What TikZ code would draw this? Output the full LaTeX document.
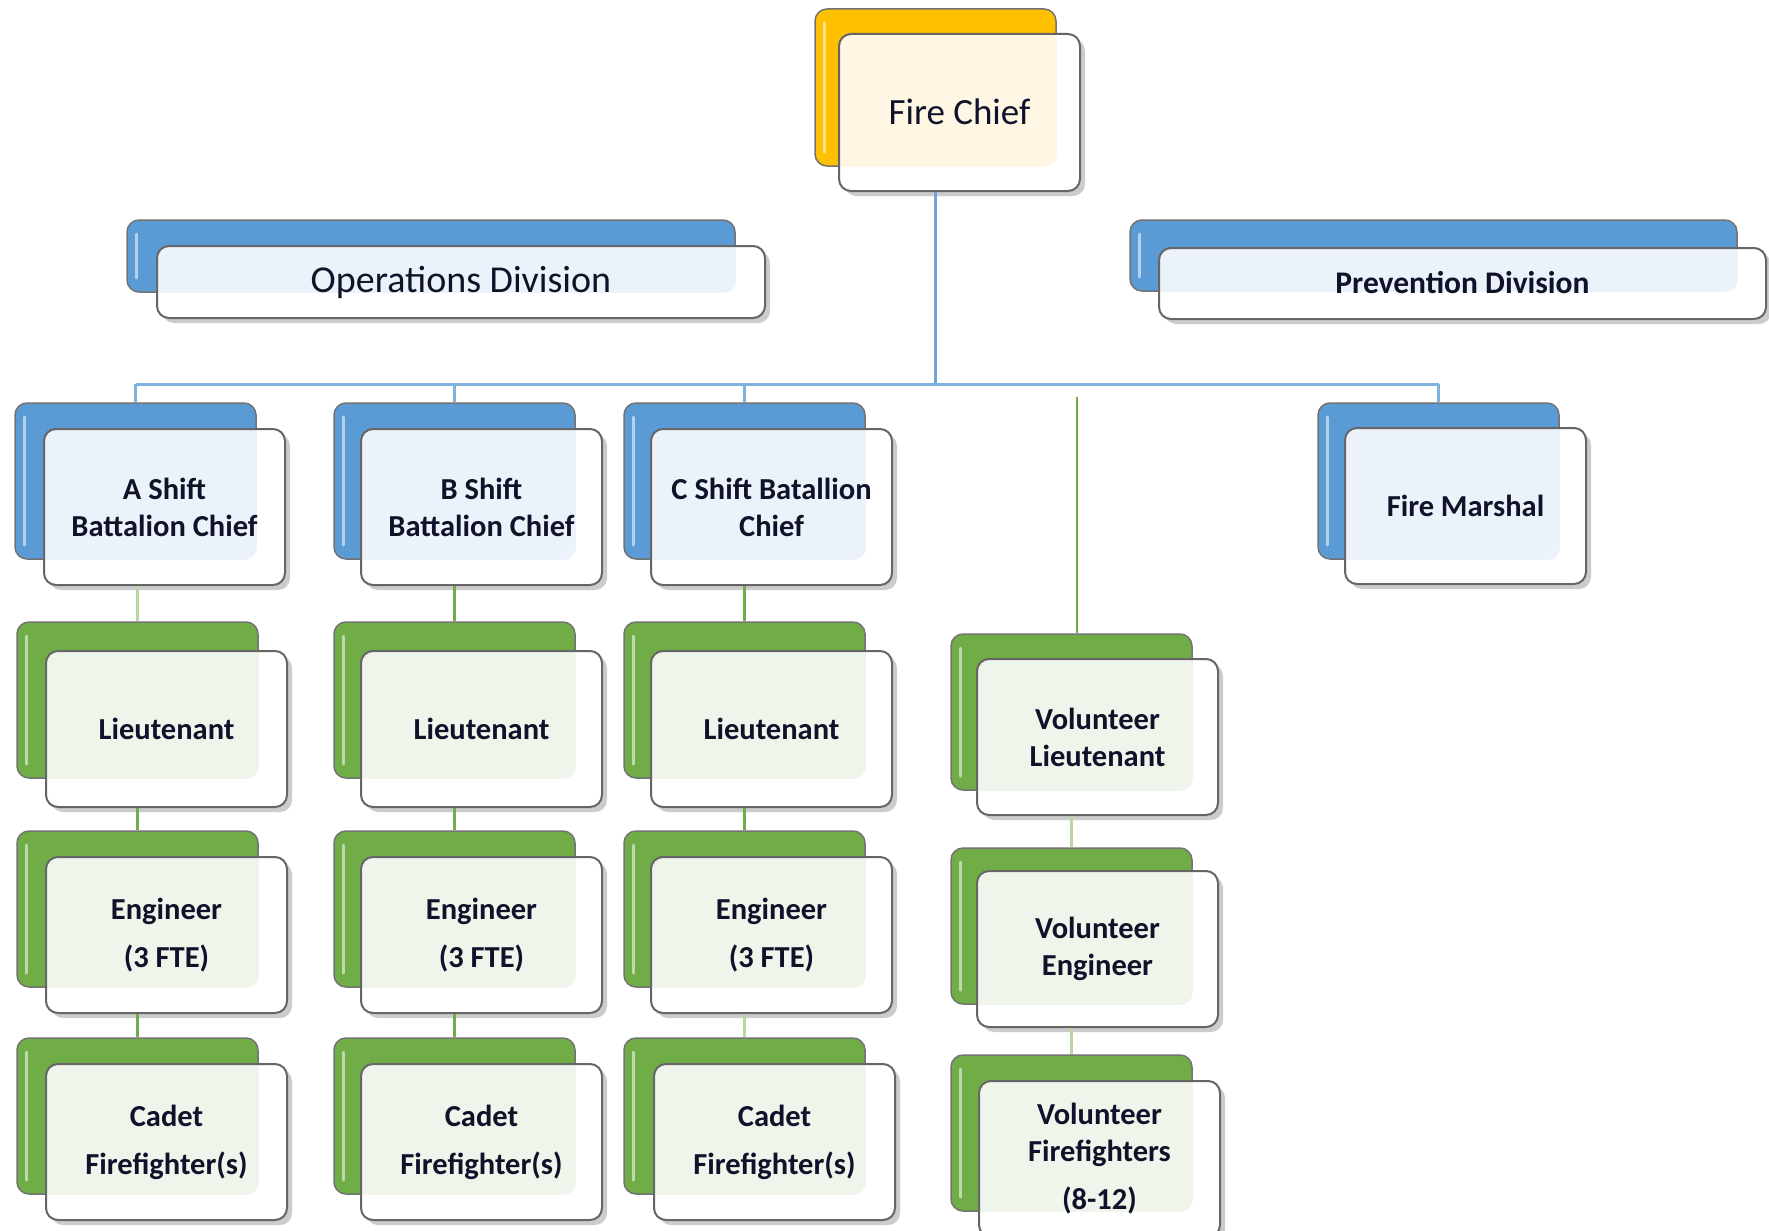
\documentclass[tikz,border=0pt]{standalone}
\usepackage{fontspec}
\setmainfont{Carlito}

\definecolor{bluefill}{HTML}{5B9BD5}
\definecolor{bluetint}{HTML}{EBF2FA}
\definecolor{greenfill}{HTML}{70AD47}
\definecolor{greentint}{HTML}{F0F5EC}
\definecolor{yellowfill}{HTML}{FFC000}
\definecolor{yellowtint}{HTML}{FFF7E4}
\definecolor{busblue}{HTML}{7FB0DE}
\definecolor{trunkblue}{HTML}{6FA5DA}
\definecolor{linkgreen}{HTML}{70AD47}
\definecolor{palegreen}{HTML}{B9D6A3}
\definecolor{inktext}{HTML}{10122A}

\tikzset{
  backbox/.style={rectangle, rounded corners=12pt, fill=#1fill, draw=black!55,
    line width=1.5pt, inner sep=0pt},
  frontbox/.style={rectangle, rounded corners=12pt, draw=black!60, line width=2pt,
    inner sep=0pt, align=center, text=inktext,
    font=\bfseries\fontsize{30.5}{37}\selectfont},
  treeline/.style={draw=busblue, line width=3pt},
  trunkline/.style={draw=trunkblue, line width=3pt},
  link/.style={draw=linkgreen, line width=2.5pt},
  palelink/.style={draw=palegreen, line width=3pt},
}

% large regular type for the top boxes
\newcommand\headtype{\mdseries\fontsize{37}{42}\selectfont}
\newcommand\divtype{\mdseries\fontsize{38}{42}\selectfont}

% #1 name, #2 colour scheme, #3/#4 back box top-left, #5/#6 front box top-left,
% #7 width, #8 height, #9 text
\newcommand\orgunit[9]{%
  \node[backbox=#2, minimum width=#7pt, minimum height=#8pt] (#1-back)
    at ({#3+#7/2},{#4+#8/2}) {};
  \draw[white, opacity=0.55, line width=3pt, line cap=round]
    ({#3+9},{#4+14}) -- ({#3+9},{#4+#8-14});
  \fill[black!20, rounded corners=12pt] ({#5+5},{#6+5}) rectangle ++(#7,#8);
  \fill[white, rounded corners=12pt] (#5,#6) rectangle ++(#7,#8);
  \begin{scope}
    \clip[rounded corners=12pt] (#1-back.north west) rectangle (#1-back.south east);
    \fill[#2tint, rounded corners=12pt] (#5,#6) rectangle ++(#7,#8);
  \end{scope}
  \node[frontbox, minimum width=#7pt, minimum height=#8pt] (#1)
    at ({#5+#7/2},{#6+#8/2}) {#9};
}

\begin{document}
\begin{tikzpicture}[x=1pt, y=-1pt]
  \useasboundingbox (0,0) rectangle (1769,1231);
  \fill[white] (0,0) rectangle (1769,1231);
  \clip (0,0) rectangle (1769,1231);

  % top of the tree
  \orgunit{chief}{yellow}{815}{9}{839}{34}{241}{157}{\headtype\raisebox{2pt}{Fire Chief}}
  \orgunit{opsdiv}{blue}{127}{220}{157}{246}{608}{72}{\divtype\raisebox{3pt}{Operations Division}}
  \orgunit{prevdiv}{blue}{1130}{220}{1159}{248}{607}{71}{\fontsize{31.5}{37}\selectfont\raisebox{3pt}{Prevention Division}}

  % battalion chiefs and fire marshal
  \orgunit{ashift}{blue}{15}{403}{44}{429}{241}{156}{A Shift\\Battalion Chief}
  \orgunit{bshift}{blue}{334}{403}{361}{429}{241}{156}{B Shift\\Battalion Chief}
  \orgunit{cshift}{blue}{624}{403}{651}{429}{241}{156}{C Shift Batallion\\Chief}
  \orgunit{marshal}{blue}{1318}{403}{1345}{428}{241}{156}{Fire Marshal}

  % lieutenants
  \orgunit{alt}{green}{17}{622}{46}{651}{241}{156}{Lieutenant}
  \orgunit{blt}{green}{334}{622}{361}{651}{241}{156}{Lieutenant}
  \orgunit{clt}{green}{624}{622}{651}{651}{241}{156}{Lieutenant}
  \orgunit{vollt}{green}{951}{634}{977}{659}{241}{156}{Volunteer\\Lieutenant}

  % engineers
  \orgunit{aeng}{green}{17}{831}{46}{857}{241}{156}{Engineer\\[11pt](3 FTE)}
  \orgunit{beng}{green}{334}{831}{361}{857}{241}{156}{Engineer\\[11pt](3 FTE)}
  \orgunit{ceng}{green}{624}{831}{651}{857}{241}{156}{Engineer\\[11pt](3 FTE)}
  \orgunit{voleng}{green}{951}{848}{977}{871}{241}{156}{Volunteer\\Engineer}

  % firefighters
  \orgunit{acad}{green}{17}{1038}{46}{1064}{241}{156}{Cadet\\[11pt]Firefighter(s)}
  \orgunit{bcad}{green}{334}{1038}{361}{1064}{241}{156}{Cadet\\[11pt]Firefighter(s)}
  \orgunit{ccad}{green}{624}{1038}{654}{1064}{241}{156}{Cadet\\[11pt]Firefighter(s)}
  \orgunit{volff}{green}{951}{1055}{979}{1081}{241}{156}{Volunteer\\Firefighters\\[11pt](8-12)}

  % reporting lines from the chief
  \coordinate (bus) at (0,384);
  \draw[trunkline] (chief-back.center |- chief.south) -- (chief-back.center |- bus);
  \draw[treeline] (ashift-back.north |- bus) -- (marshal-back.north |- bus);
  \foreach \u in {ashift,bshift,cshift,marshal}
    \draw[treeline] (\u-back.north |- bus) -- (\u-back.north);

  % volunteer branch
  \coordinate (volroot) at (1077,397);
  \draw[link] (volroot) -- (volroot |- vollt-back.north);

  % chains within each shift
  \draw[palelink] (alt-back.north |- ashift.south) -- (alt-back.north);
  \draw[link] (aeng-back.north |- alt.south) -- (aeng-back.north);
  \draw[link] (acad-back.north |- aeng.south) -- (acad-back.north);
  \draw[link] (blt-back.north |- bshift.south) -- (blt-back.north);
  \draw[link] (beng-back.north |- blt.south) -- (beng-back.north);
  \draw[link] (bcad-back.north |- beng.south) -- (bcad-back.north);
  \draw[link] (clt-back.north |- cshift.south) -- (clt-back.north);
  \draw[link] (ceng-back.north |- clt.south) -- (ceng-back.north);
  \draw[palelink] (ccad-back.north |- ceng.south) -- (ccad-back.north);
  \draw[palelink] (voleng-back.north |- vollt.south) -- (voleng-back.north);
  \draw[palelink] (volff-back.north |- voleng.south) -- (volff-back.north);
\end{tikzpicture}
\end{document}
